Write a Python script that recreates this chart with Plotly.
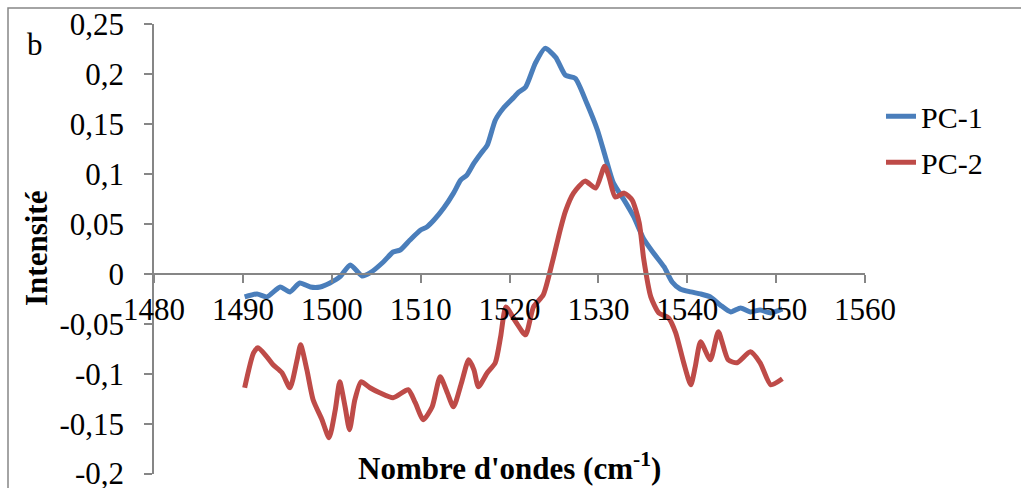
import plotly.graph_objects as go

# Wavenumber (cm-1) and intensity for the two principal components
pc1_x = [1490.2, 1491.6, 1492.7, 1494.2, 1495.3, 1496.4, 1497.6, 1498.7, 1499.8, 1500.9,
         1502.1, 1503.4, 1504.3, 1505.8, 1506.9, 1507.7, 1508.8, 1510.0, 1510.7, 1511.5,
         1512.6, 1513.7, 1514.5, 1515.2, 1516.0, 1516.8, 1517.5, 1518.4, 1519.3, 1520.5,
         1521.0, 1521.8, 1522.9, 1524.0, 1525.2, 1526.3, 1527.4, 1528.7, 1529.9, 1530.8,
         1531.7, 1532.9, 1534.0, 1535.1, 1536.2, 1537.4, 1538.3, 1539.2, 1540.4, 1541.5,
         1542.6, 1543.7, 1544.9, 1546.0, 1547.1, 1548.2, 1549.4, 1550.7]
pc1_y = [-0.023, -0.020, -0.023, -0.013, -0.018, -0.009, -0.013, -0.013, -0.009, -0.003,
         0.009, -0.002, 0.001, 0.012, 0.022, 0.024, 0.034, 0.044, 0.047, 0.054,
         0.066, 0.081, 0.094, 0.099, 0.111, 0.121, 0.129, 0.154, 0.166, 0.177,
         0.182, 0.187, 0.211, 0.226, 0.217, 0.199, 0.196, 0.171, 0.144, 0.117,
         0.091, 0.074, 0.057, 0.035, 0.021, 0.007, -0.008, -0.015, -0.018, -0.020,
         -0.023, -0.031, -0.038, -0.034, -0.038, -0.036, -0.039, -0.035]

pc2_x = [1490.2, 1491.2, 1491.7, 1492.7, 1493.4, 1494.4, 1495.3, 1496.1, 1496.5, 1497.2,
         1497.9, 1498.9, 1499.7, 1500.4, 1500.9, 1501.5, 1502.0, 1502.6, 1503.3, 1504.3,
         1505.4, 1506.9, 1508.6, 1509.4, 1510.3, 1511.3, 1512.2, 1513.0, 1513.7, 1514.6,
         1515.4, 1516.0, 1516.5, 1517.5, 1518.4, 1519.0, 1519.6, 1520.7, 1521.8, 1522.7,
         1523.8, 1524.8, 1525.7, 1526.3, 1527.2, 1528.5, 1529.7, 1530.7, 1531.2, 1531.9,
         1532.9, 1533.8, 1534.6, 1535.1, 1535.9, 1536.8, 1537.9, 1538.7, 1539.6, 1540.4,
         1540.9, 1541.5, 1542.6, 1543.5, 1544.6, 1545.6, 1547.1, 1548.2, 1549.4, 1550.7]
pc2_y = [-0.114, -0.079, -0.074, -0.083, -0.091, -0.099, -0.114, -0.086, -0.071, -0.096,
         -0.126, -0.146, -0.164, -0.136, -0.108, -0.133, -0.156, -0.126, -0.108, -0.114,
         -0.119, -0.124, -0.116, -0.129, -0.146, -0.133, -0.103, -0.119, -0.133, -0.109,
         -0.086, -0.096, -0.113, -0.099, -0.089, -0.063, -0.033, -0.048, -0.061, -0.033,
         -0.021, 0.011, 0.044, 0.063, 0.081, 0.093, 0.086, 0.108, 0.097, 0.077,
         0.081, 0.074, 0.051, 0.015, -0.023, -0.039, -0.044, -0.059, -0.089, -0.111,
         -0.093, -0.068, -0.086, -0.058, -0.086, -0.089, -0.078, -0.089, -0.111, -0.105]

x_ticks = [1480, 1490, 1500, 1510, 1520, 1530, 1540, 1550, 1560]
x_tick_text = ["1480", "1490", "1500", "1510", "1520", "1530", "1540", "1550", "1560"]
y_ticks = [-0.2, -0.15, -0.1, -0.05, 0, 0.05, 0.1, 0.15, 0.2, 0.25]
y_tick_text = ["-0,2", "-0,15", "-0,1", "-0,05", "0", "0,05", "0,1", "0,15", "0,2", "0,25"]

FONT = "Liberation Serif, Times New Roman, serif"
AXIS_GREY = "#868686"
Y_MIN, Y_MAX = -0.2, 0.25
EPS = 0.0004

fig = go.Figure()
fig.add_trace(go.Scatter(x=pc1_x, y=pc1_y, mode="lines", name="PC-1", legendgroup="pc1",
                         line=dict(color="#4A7EBB", width=5, shape="spline", smoothing=0.6)))
fig.add_trace(go.Scatter(x=pc2_x, y=pc2_y, mode="lines", name="PC-2", legendgroup="pc2",
                         line=dict(color="#BE4B48", width=5, shape="spline", smoothing=0.6)))

fig.update_layout(
    width=1021, height=488,
    margin=dict(l=154, r=156, t=24, b=14, autoexpand=False),
    paper_bgcolor="white", plot_bgcolor="white",
    font=dict(family=FONT, size=31, color="black"),
    showlegend=True,
    legend=dict(x=1.0225, y=0.853, xanchor="left", yanchor="top",
                font=dict(family=FONT, size=30, color="black"),
                bgcolor="rgba(0,0,0,0)", itemwidth=30, tracegroupgap=4),
    xaxis=dict(range=[1480, 1560], tickmode="array", tickvals=x_ticks, ticktext=x_tick_text,
               showgrid=False, zeroline=False, showline=True, linecolor=AXIS_GREY, linewidth=1.5,
               ticks="outside", ticklen=8, tickcolor=AXIS_GREY, tickwidth=1.5,
               anchor="free", position=(0 - (Y_MIN - EPS)) / (Y_MAX - Y_MIN + 2 * EPS),
               ticklabeloverflow="allow", automargin=False,
               tickfont=dict(family=FONT, size=31, color="black")),
    yaxis=dict(range=[Y_MIN - EPS, Y_MAX + EPS], tickmode="array", tickvals=y_ticks,
               ticktext=y_tick_text,
               showgrid=False, zeroline=False, showline=True, linecolor=AXIS_GREY, linewidth=1.5,
               ticks="outside", ticklen=8, tickcolor=AXIS_GREY, tickwidth=1.5,
               ticklabelstandoff=14, ticklabeloverflow="allow", automargin=False,
               tickfont=dict(family=FONT, size=31, color="black")),
)

# Chart frame (left and top edges visible)
pw = 1021 - 154 - 156
ph = 488 - 24 - 14
fig.add_shape(type="rect", xref="paper", yref="paper",
              x0=(8 - 154) / pw, x1=(1030 - 154) / pw,
              y0=(488 - 14 - 500) / ph, y1=(488 - 14 - 8) / ph,
              line=dict(color=AXIS_GREY, width=1.5), layer="below")

# Panel letter
fig.add_annotation(xref="paper", yref="paper", x=(35 - 154) / pw, y=(474 - 45) / ph,
                   xanchor="center", yanchor="middle",
                   text="b", showarrow=False, font=dict(family=FONT, size=31, color="black"))

# Axis titles
fig.add_annotation(xref="paper", yref="paper", x=(36 - 154) / pw, y=0.5,
                   xanchor="center", yanchor="middle",
                   text="<b>Intensité</b>", textangle=-90, showarrow=False,
                   font=dict(family=FONT, size=31, color="black"))
fig.add_annotation(xref="paper", yref="paper", x=0.5, y=(474 - 466) / ph,
                   xanchor="center", yanchor="middle",
                   text="<b>Nombre d'ondes (cm<sup>-1</sup>)</b>", showarrow=False,
                   font=dict(family=FONT, size=31, color="black"))

fig.write_html("out.html")
